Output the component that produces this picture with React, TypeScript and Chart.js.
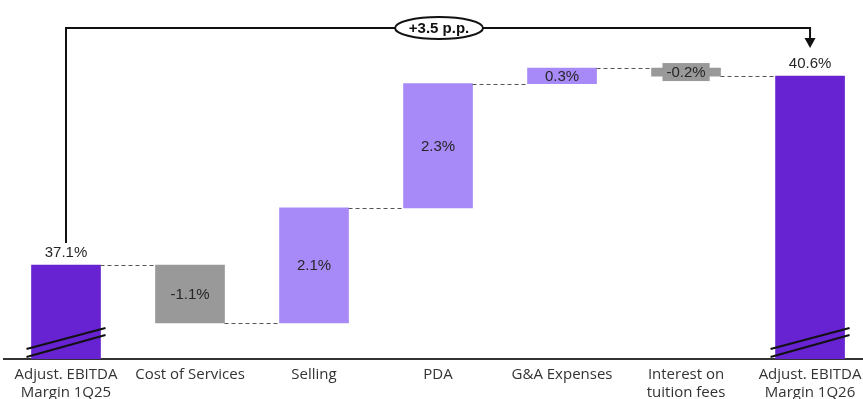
import React, { useEffect, useRef } from 'react';
import { Chart, registerables } from 'chart.js';

Chart.register(...registerables);

// ---- data ----
const CATEGORY_LABELS: string[][] = [
  ['Adjust. EBITDA', 'Margin 1Q25'],
  ['Cost of Services'],
  ['Selling'],
  ['PDA'],
  ['G&A Expenses'],
  ['Interest on', 'tuition fees'],
  ['Adjust. EBITDA', 'Margin 1Q26'],
];
const VALUE_TEXT: string[] = ['37.1%', '-1.1%', '2.1%', '2.3%', '0.3%', '-0.2%', '40.6%'];
const BAR_KIND: string[] = ['total', 'decrease', 'increase', 'increase', 'increase', 'decrease', 'total'];
// start / end level of each floating bar (null start = from the broken axis floor)
const BAR_START: (number | null)[] = [null, 36.03, 36.03, 38.16, 40.46, 40.6, null];
const BAR_END: number[] = [37.1, 37.1, 38.16, 40.46, 40.75, 40.75, 40.6];
const TOTAL_CHANGE_TEXT = '+3.5 p.p.';

// ---- axis settings ----
const Y_MIN = 35.36;
const Y_MAX = 42.01;
const X_MIN = -0.5;
const X_MAX = 6.427;

const COLORS: Record<string, string> = {
  total: '#6723d1',
  increase: '#a78af7',
  decrease: '#999999',
};

const overlayPlugin = {
  id: 'waterfallOverlay',
  afterDatasetsDraw(chart: any) {
    const { ctx, chartArea } = chart;
    const ys = chart.scales.y;
    const xs = chart.scales.x;
    const bars = chart
      .getDatasetMeta(0)
      .data.map((el: any) => el.getProps(['x', 'y', 'base', 'width'], true));
    ctx.save();

    // dashed connectors
    ctx.strokeStyle = '#555';
    ctx.lineWidth = 1;
    ctx.setLineDash([4, 3]);
    for (let i = 0; i < bars.length - 1; i++) {
      const level = BAR_KIND[i] === 'decrease' ? (BAR_START[i] as number) : BAR_END[i];
      const py = Math.round(ys.getPixelForValue(level)) + 0.5;
      ctx.beginPath();
      ctx.moveTo(bars[i].x + bars[i].width / 2, py);
      ctx.lineTo(bars[i + 1].x - bars[i + 1].width / 2, py);
      ctx.stroke();
    }
    ctx.setLineDash([]);

    // value labels
    ctx.font = '15px "Liberation Sans", Arial, sans-serif';
    ctx.textAlign = 'center';
    ctx.textBaseline = 'middle';
    bars.forEach((b: any, i: number) => {
      const top = Math.min(b.y, b.base);
      const bottom = Math.max(b.y, b.base);
      const kind = BAR_KIND[i];
      const cy = kind === 'total' ? top - 13 : (top + bottom) / 2;
      if (kind !== 'total' && bottom - top < 12) {
        const w = ctx.measureText(VALUE_TEXT[i]).width + 8;
        ctx.fillStyle = COLORS[kind];
        ctx.fillRect(b.x - w / 2, cy - 9, w, 18);
      }
      ctx.fillStyle = '#262626';
      ctx.fillText(VALUE_TEXT[i], b.x, cy + 1);
    });

    // axis-break marks on total bars
    const base = chartArea.bottom;
    ctx.strokeStyle = '#111';
    ctx.lineWidth = 2;
    bars.forEach((b: any, i: number) => {
      if (BAR_KIND[i] !== 'total') return;
      const l = b.x - b.width / 2 - 5;
      const r = b.x + b.width / 2 + 5;
      ctx.beginPath();
      ctx.moveTo(l, base - 10);
      ctx.lineTo(r, base - 31);
      ctx.moveTo(l, base - 2);
      ctx.lineTo(r, base - 24);
      ctx.stroke();
    });

    // total change annotation
    const first = bars[0];
    const last = bars[bars.length - 1];
    const topY = chartArea.top + 28;
    const startY = Math.min(first.y, first.base) - 22;
    const tipY = Math.min(last.y, last.base) - 28;
    ctx.strokeStyle = '#111';
    ctx.lineWidth = 2;
    ctx.beginPath();
    ctx.moveTo(first.x, startY);
    ctx.lineTo(first.x, topY);
    ctx.lineTo(last.x, topY);
    ctx.lineTo(last.x, tipY - 9);
    ctx.stroke();
    ctx.fillStyle = '#111';
    ctx.beginPath();
    ctx.moveTo(last.x - 5.5, tipY - 10);
    ctx.lineTo(last.x + 5.5, tipY - 10);
    ctx.lineTo(last.x, tipY);
    ctx.closePath();
    ctx.fill();

    const ex = xs.getPixelForValue(3) + 1;
    ctx.beginPath();
    ctx.ellipse(ex, topY, 44, 11, 0, 0, Math.PI * 2);
    ctx.fillStyle = '#fff';
    ctx.fill();
    ctx.stroke();
    ctx.fillStyle = '#111';
    ctx.font = 'bold 15px "Liberation Sans", Arial, sans-serif';
    ctx.fillText(TOTAL_CHANGE_TEXT, ex, topY + 1);

    ctx.restore();
  },
};

export default function App() {
  const ref = useRef<HTMLCanvasElement>(null);
  useEffect(() => {
    document.body.style.margin = '0';
    const chart = new Chart(ref.current as HTMLCanvasElement, {
      type: 'bar',
      data: {
        datasets: [
          {
            data: BAR_END.map((end, i) => ({ x: i, y: [BAR_START[i] ?? Y_MIN, end] })) as any,
            backgroundColor: BAR_KIND.map((k) => COLORS[k]),
            barThickness: 69,
            borderWidth: 0,
          },
        ],
      },
      options: {
        animation: false,
        responsive: true,
        maintainAspectRatio: false,
        layout: { padding: { left: 4, right: 0, top: 0, bottom: 0 } },
        plugins: { legend: { display: false }, tooltip: { enabled: false } },
        scales: {
          x: {
            type: 'linear',
            offset: false,
            min: X_MIN,
            max: X_MAX,
            afterBuildTicks: (s: any) => {
              s.ticks = CATEGORY_LABELS.map((_, i) => ({ value: i }));
            },
            afterFit: (s: any) => {
              s.height = 40;
              s.paddingLeft = 0;
              s.paddingRight = 0;
            },
            grid: { display: false, drawTicks: false, offset: false },
            border: { display: true, color: '#333', width: 2 },
            ticks: {
              autoSkip: false,
              maxRotation: 0,
              minRotation: 0,
              padding: 7,
              color: '#333',
              font: { family: '"Open Sans", sans-serif', size: 15, lineHeight: 1.2 },
              callback: (v: any) => CATEGORY_LABELS[v] ?? '',
            },
          },
          y: {
            display: false,
            min: Y_MIN,
            max: Y_MAX,
          },
        },
      },
      plugins: [overlayPlugin],
    });
    return () => chart.destroy();
  }, []);
  return (
    <div style={{ position: 'relative', width: 863, height: 399 }}>
      <canvas ref={ref} />
    </div>
  );
}
